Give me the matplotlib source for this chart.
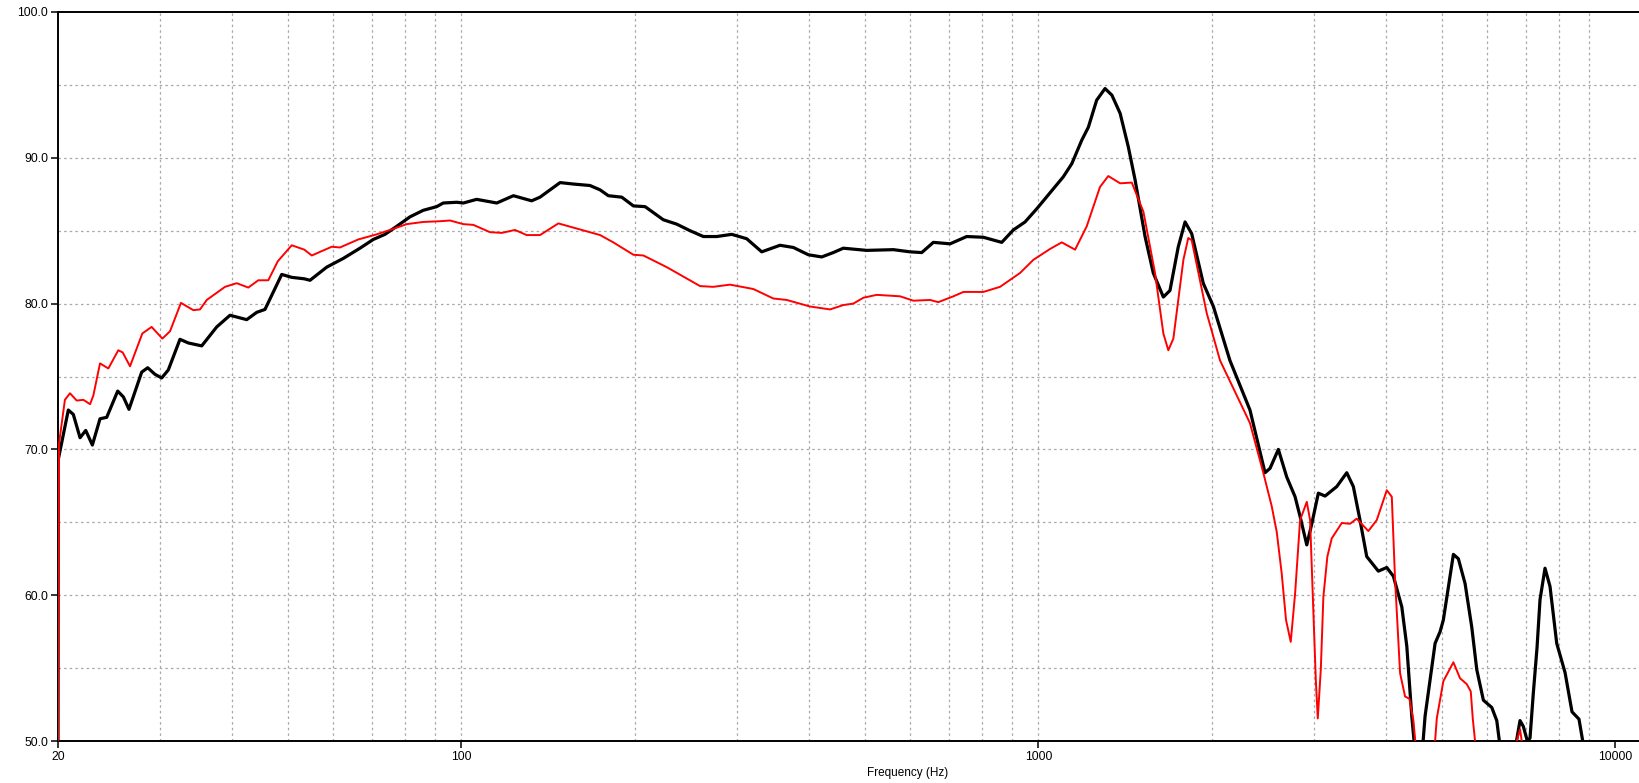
import matplotlib
matplotlib.use("Agg")
import matplotlib.pyplot as plt
from matplotlib.ticker import FixedLocator, NullFormatter

# black trace (thick)
black_freq = [20.0, 20.02, 20.84, 21.26, 21.84, 22.34, 22.94, 23.65, 24.29, 25.38, 25.96,
              26.55, 27.93, 28.61, 29.45, 30.25, 31.06, 32.54, 33.64, 35.49, 37.68,
              39.73, 42.47, 44.20, 45.68, 48.84, 50.83, 53.45, 54.68, 58.44, 62.44,
              66.74, 70.38, 73.74, 77.27, 81.48, 85.92, 90.63, 93.05, 98.18, 100.8,
              106.3, 115.2, 123.1, 132.4, 136.9, 148.3, 156.4, 167.1, 174.0, 179.8,
              189.7, 198.7, 208.2, 223.9, 236.2, 249.1, 262.7, 277.1, 294.2, 312.3,
              331.6, 356.7, 376.2, 399.4, 421.3, 441.2, 459.2, 504.2, 560.8, 599.3,
              628.0, 657.7, 703.2, 751.4, 802.9, 864.2, 905.1, 948.4, 993.6, 1048,
              1105, 1143, 1189, 1221, 1262, 1305, 1341, 1386, 1432, 1471, 1531, 1582,
              1647, 1691, 1748, 1796, 1844, 1931, 2011, 2148, 2327, 2471, 2521, 2606,
              2695, 2786, 2842, 2919, 2978, 3057, 3140, 3290, 3424, 3515, 3610, 3708,
              3884, 4017, 4124, 4265, 4351, 4438, 4479, 4580, 4680, 4871, 4969, 5034,
              5240, 5345, 5490, 5639, 5752, 5906, 6107, 6230, 6295, 6517, 6747, 6836,
              6927, 7038, 7114, 7209, 7316, 7404, 7553, 7705, 7914, 8181, 8412, 8650,
              8779, 8900]
black_db = [50.0, 69.3, 72.7, 72.4, 70.8, 71.3, 70.3, 72.1, 72.2, 74.0, 73.6,
            72.75, 75.3, 75.6, 75.15, 74.9, 75.45, 77.55, 77.3, 77.1, 78.4,
            79.2, 78.9, 79.4, 79.6, 82.0, 81.8, 81.7, 81.6, 82.5, 83.1,
            83.8, 84.4, 84.75, 85.3, 85.95, 86.4, 86.65, 86.9, 86.95, 86.9,
            87.15, 86.9, 87.4, 87.05, 87.3, 88.3, 88.2, 88.1, 87.8, 87.4,
            87.3, 86.7, 86.65, 85.75, 85.45, 85.0, 84.6, 84.6, 84.75, 84.45,
            83.55, 84.0, 83.85, 83.35, 83.2, 83.5, 83.8, 83.65, 83.7, 83.55,
            83.5, 84.2, 84.1, 84.6, 84.55, 84.2, 85.05, 85.6, 86.5, 87.6,
            88.7, 89.6, 91.2, 92.1, 93.95, 94.75, 94.3, 93.05, 90.75, 88.5, 84.6, 82.1,
            80.45, 80.9, 83.9, 85.6, 84.8, 81.4, 79.8, 76.1, 72.7, 68.4, 68.7, 70.0,
            68.1, 66.75, 65.4, 63.45, 64.9, 67.0, 66.8, 67.45, 68.4, 67.45, 65.15, 62.65,
            61.65, 61.9, 61.3, 59.2, 56.5, 51.7, 50.0, 47.0, 51.7, 56.7, 57.5, 58.3,
            62.8, 62.5, 60.8, 57.8, 54.9, 52.8, 52.3, 51.4, 50.0, 47.0, 50.1, 51.4,
            51.0, 50.0, 50.2, 53.3, 56.4, 59.7, 61.85, 60.6, 56.7, 54.7, 52.0, 51.5,
            50.0, 47.0]

# red trace (thin)
red_freq = [20.0, 20.08, 20.56, 20.98, 21.55, 22.13, 22.73, 23.03, 23.65, 24.45, 25.44,
            25.89, 26.66, 28.00, 29.06, 30.33, 31.27, 32.67, 34.32, 35.25, 36.21,
            38.95, 40.81, 42.74, 44.48, 46.29, 48.07, 50.83, 53.45, 55.06, 59.63,
            61.62, 66.29, 71.35, 75.23, 80.41, 85.92, 91.83, 95.59, 100.8, 104.9,
            112.1, 117.5, 123.9, 129.8, 136.9, 147.3, 158.5, 174.0, 183.4, 198.7,
            206.8, 227.0, 259.3, 273.3, 292.2, 320.7, 347.3, 366.4, 402.1, 435.6,
            459.2, 477.9, 497.4, 524.7, 576.0, 607.4, 649.1, 670.9, 712.5, 741.5,
            802.9, 858.4, 929.6, 980.2, 1048, 1098, 1158, 1213, 1279, 1322, 1386,
            1452, 1521, 1593, 1647, 1680, 1714, 1784, 1819, 1844, 1958, 2065, 2327,
            2454, 2538, 2589, 2641, 2687, 2738, 2786, 2842, 2919, 2958, 2997, 3026,
            3050, 3087, 3119, 3169, 3225, 3356, 3469, 3563, 3732, 3859, 4017, 4098,
            4152, 4236, 4321, 4396, 4467, 4500, 4699, 4871, 4904, 5034, 5240, 5381,
            5527, 5616, 5661, 5713, 6187, 6747, 6836, 6883, 7000]
red_db = [50.0, 70.4, 73.4, 73.85, 73.35, 73.4, 73.1, 73.7, 75.9, 75.55, 76.8,
          76.65, 75.7, 77.95, 78.4, 77.6, 78.1, 80.05, 79.55, 79.6, 80.25,
          81.15, 81.4, 81.1, 81.6, 81.6, 82.9, 84.0, 83.7, 83.3, 83.9,
          83.85, 84.4, 84.75, 85.05, 85.45, 85.6, 85.65, 85.7, 85.45, 85.4,
          84.9, 84.85, 85.05, 84.7, 84.7, 85.5, 85.15, 84.7, 84.2, 83.35,
          83.3, 82.5, 81.2, 81.15, 81.3, 81.0, 80.35, 80.25, 79.8, 79.6,
          79.9, 80.0, 80.4, 80.6, 80.5, 80.2, 80.25, 80.1, 80.5, 80.8,
          80.8, 81.15, 82.1, 83.0, 83.75, 84.2, 83.7, 85.3, 88.0, 88.75, 88.25,
          88.3, 86.3, 82.1, 77.95, 76.8, 77.6, 83.0, 84.5, 84.35, 79.35, 76.1, 71.8,
          68.4, 66.1, 64.35, 61.5, 58.3, 56.8, 60.1, 65.15, 66.4, 65.15, 58.75, 54.2,
          51.55, 54.9, 59.9, 62.65, 63.9, 64.95, 64.9, 65.25, 64.4, 65.15, 67.2, 66.75,
          61.05, 54.65, 53.05, 52.9, 51.4, 50.0, 47.0, 50.0, 51.55, 54.1, 55.4, 54.3,
          53.9, 53.4, 51.55, 50.0, 47.0, 50.0, 50.8, 50.0, 47.0]

x_major = [20, 100, 1000, 10000]
x_labels = ["20", "100", "1000", "10000"]
y_major = [50, 60, 70, 80, 90, 100]
y_labels = ["50.0", "60.0", "70.0", "80.0", "90.0", "100.0"]

plt.rcParams["font.family"] = ["Liberation Sans", "DejaVu Sans"]

fig = plt.figure(figsize=(16.39, 7.83), dpi=100)
ax = fig.add_axes([58 / 1639, 42 / 783, 1 - 58 / 1639, 729 / 783])

ax.set_xscale("log")
ax.set_xlim(20, 10990)
ax.set_ylim(50, 100)

ax.plot(black_freq, black_db, color="black", lw=2.3, solid_joinstyle="round", zorder=3)
ax.plot(red_freq, red_db, color="#ff0000", lw=1.4, solid_joinstyle="round", zorder=4)

# grid: every decade step on x, every 5 dB on y
grid_x = [m * 10 ** d for d in (1, 2, 3) for m in range(1, 10) if 20 < m * 10 ** d <= 10000]
grid_y = [55, 60, 65, 70, 75, 80, 85, 90, 95]
for gx in grid_x:
    ax.axvline(gx, color="#a8a8a8", lw=0.9, ls=(0, (2, 2.5)), zorder=1)
for gy in grid_y:
    ax.axhline(gy, color="#a8a8a8", lw=0.9, ls=(0, (2, 2.5)), zorder=1)

ax.xaxis.set_major_locator(FixedLocator(x_major))
ax.xaxis.set_minor_locator(FixedLocator([]))
ax.xaxis.set_minor_formatter(NullFormatter())
ax.set_xticklabels(x_labels)
ax.set_yticks(y_major)
ax.set_yticklabels(y_labels)
ax.tick_params(axis="both", direction="out", length=5, width=1.1, labelsize=8.8,
               colors="black", pad=2)

for side in ("left", "bottom", "top"):
    ax.spines[side].set_linewidth(1.4)
    ax.spines[side].set_color("black")
ax.spines["right"].set_visible(False)

fig.text(908 / 1639, 1 - 773 / 783, "Frequency (Hz)", ha="center", va="center", fontsize=8.5)
fig.text(-0.004, 1 - 312 / 783, "SPL (dB)", rotation=90, ha="center", va="center",
         fontsize=8.5, color="#888888")

fig.savefig("out.png", dpi=100)
